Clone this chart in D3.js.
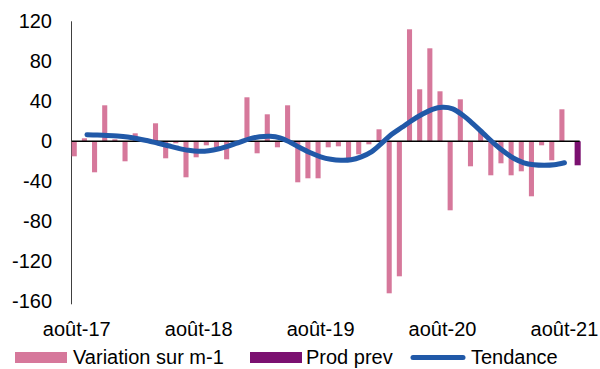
<!DOCTYPE html>
<html lang="fr">
<head>
<meta charset="UTF-8">
<title>Variation sur m-1</title>
<script src="https://d3js.org/d3.v7.min.js"></script>
<style>
  body { margin: 0; background: #fff; }
  svg { font-family: "Liberation Sans", Arial, sans-serif; }
  .tick-label { font-size: 20px; fill: #000; }
</style>
</head>
<body>
<script>
// months août-17 .. sept-21 (last slot holds the forecast bar)
const monthNames = ["janv", "févr", "mars", "avr", "mai", "juin", "juil", "août", "sept", "oct", "nov", "déc"];
const months = [];
for (let i = 0; i < 50; i++) {
  const m = (7 + i) % 12, yr = 17 + Math.floor((7 + i) / 12);
  months.push(monthNames[m] + "-" + yr);
}

// Variation sur m-1 (août-17 .. août-21)
const variation = [-15, 3, -31, 36, 2, -20, 8, 3, 18, -17, -2, -36,
  -16, -4, -6, -18, -1, 44, -12, 27, -6, 36, -41, -37,
  -37, -6, -5, -17, -13, -3, 12, -152, -135, 112, 52, 93,
  50, -69, 42, -25, 10, -34, -22, -34, -30, -55, -4, -19, 32];

// Prod prev
const prodPrev = [{ month: "sept-21", value: -24 }];

// Tendance (sept-17 .. août-21)
const tendance = [6.5, 6.2, 5.8, 5.2, 4.2, 2.6, 0.5, -2, -4.5, -7, -9,
  -10, -9.5, -7.5, -4.5, -1, 2.5, 4.5, 5, 3.5, -1, -6.5, -11.5,
  -15.5, -18, -19, -18.5, -15.5, -10.5, -2, 7, 14, 21, 27, 32,
  34, 32.5, 26, 17.5, 8, -1.5, -10, -17, -21.5, -23.5, -24, -23.5, -21.5];

const yTicks = [120, 80, 40, 0, -40, -80, -120, -160];
const xLabels = ["août-17", "août-18", "août-19", "août-20", "août-21"];

const width = 600, height = 369;
const svg = d3.select("body").append("svg")
  .attr("width", width)
  .attr("height", height);

const x = d3.scaleBand().domain(months).range([71.7, 579.7]);
const x1 = d3.scaleBand().domain(["var", "prev"]).range([0, x.bandwidth()]);
const y = d3.scaleLinear().domain([-160, 120]).range([301.3, 21.3]);

// vertical axis
svg.append("line")
  .attr("x1", 71.5).attr("x2", 71.5)
  .attr("y1", y(120)).attr("y2", y(-160) + 3)
  .attr("stroke", "#404040").attr("stroke-width", 1);

svg.selectAll(".ytick")
  .data(yTicks)
  .enter().append("text")
  .attr("class", "tick-label")
  .attr("x", 52)
  .attr("y", d => y(d) + 7)
  .attr("text-anchor", "end")
  .text(d => d);

// bars
svg.selectAll(".bar")
  .data(variation)
  .enter().append("rect")
  .attr("x", (d, i) => x(months[i]) + x1("var"))
  .attr("width", x1.bandwidth())
  .attr("y", d => y(Math.max(0, d)))
  .attr("height", d => Math.abs(y(d) - y(0)))
  .attr("fill", "#d6789b");

svg.selectAll(".prev")
  .data(prodPrev)
  .enter().append("rect")
  .attr("x", d => x(d.month) + x1("prev"))
  .attr("width", x1.bandwidth() + 1)
  .attr("y", d => y(Math.max(0, d.value)))
  .attr("height", d => Math.abs(y(d.value) - y(0)))
  .attr("fill", "#7b1070");

// zero line
svg.append("line")
  .attr("x1", x.range()[0]).attr("x2", x.range()[1])
  .attr("y1", y(0)).attr("y2", y(0))
  .attr("stroke", "#000").attr("stroke-width", 1.5);

// trend line
const line = d3.line()
  .x((d, i) => x(months[i + 1]) + x.bandwidth() / 2)
  .y(d => y(d))
  .curve(d3.curveCatmullRom);

svg.append("path")
  .datum(tendance)
  .attr("d", line)
  .attr("fill", "none")
  .attr("stroke", "#2159a8")
  .attr("stroke-width", 5)
  .attr("stroke-linecap", "round");

// x labels
svg.selectAll(".xlabel")
  .data(xLabels)
  .enter().append("text")
  .attr("class", "tick-label")
  .attr("x", d => x(d) + x.bandwidth() / 2)
  .attr("y", 336)
  .attr("text-anchor", "middle")
  .text(d => d);

// legend
const legend = [
  { label: "Variation sur m-1", color: "#d6789b", type: "rect", x: 15, tx: 73 },
  { label: "Prod prev", color: "#7b1070", type: "rect", x: 250, tx: 306 },
  { label: "Tendance", color: "#2159a8", type: "line", x: 411, tx: 471 }
];
const lg = svg.append("g");
legend.forEach(d => {
  if (d.type === "rect") {
    lg.append("rect").attr("x", d.x).attr("y", 352)
      .attr("width", 52).attr("height", 11).attr("fill", d.color);
  } else {
    lg.append("line").attr("x1", d.x + 2).attr("x2", d.x + 52)
      .attr("y1", 357.5).attr("y2", 357.5)
      .attr("stroke", d.color).attr("stroke-width", 5)
      .attr("stroke-linecap", "round");
  }
  lg.append("text").attr("class", "tick-label")
    .attr("x", d.tx).attr("y", 364).text(d.label);
});
</script>
</body>
</html>
